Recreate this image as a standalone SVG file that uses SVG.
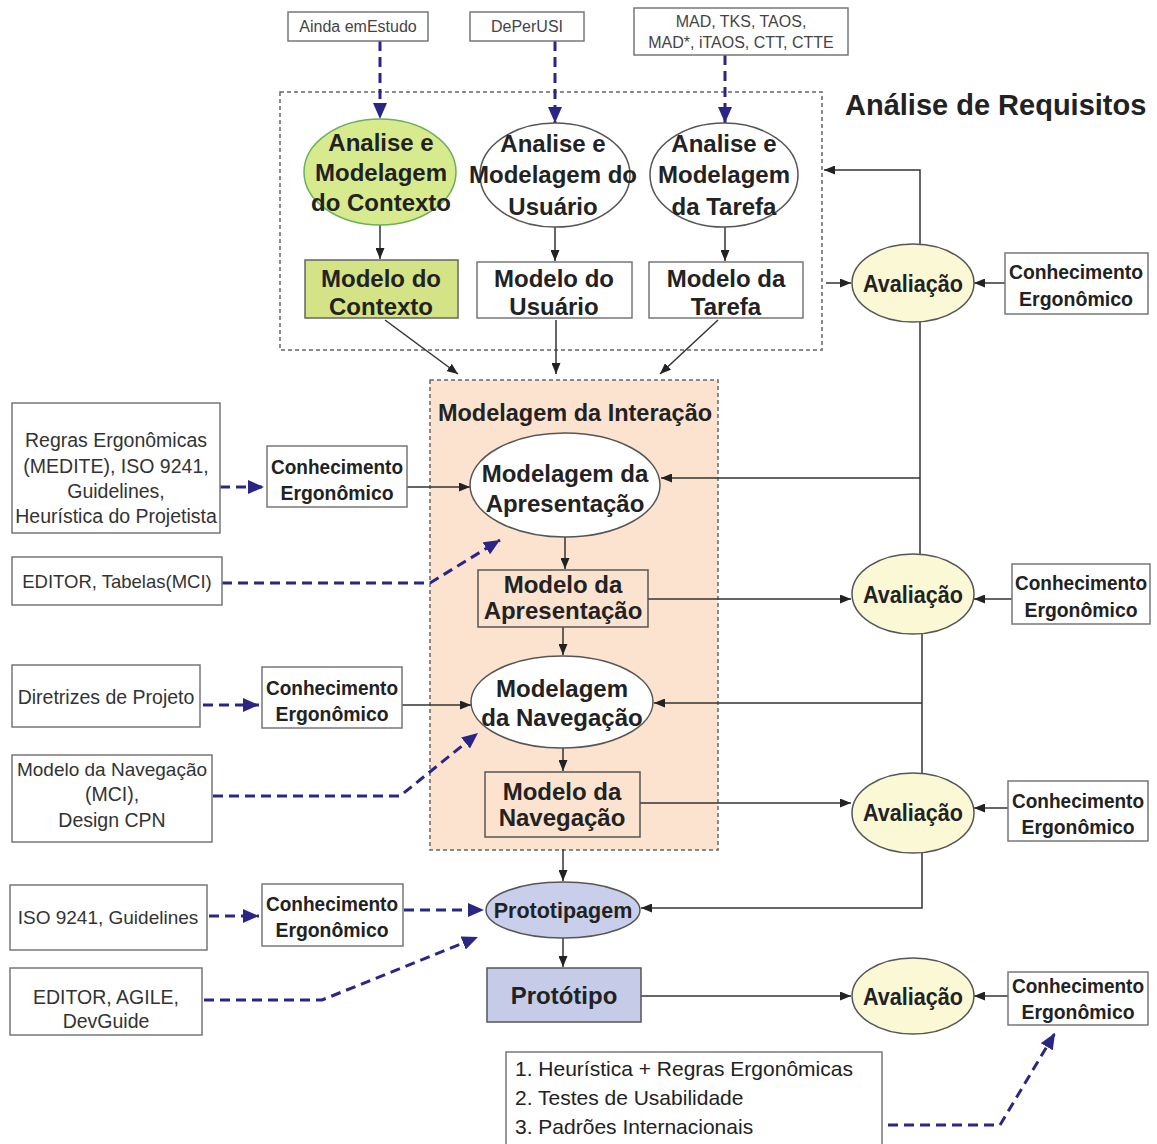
<svg xmlns="http://www.w3.org/2000/svg" width="1157" height="1144" viewBox="0 0 1157 1144">
<style>
text { font-family: "Liberation Sans", Arial, sans-serif; fill: #222; }
.b { font-weight: bold; font-size: 24px; text-anchor: middle; }
.k { font-weight: bold; font-size: 19.3px; text-anchor: middle; }
.av { font-weight: bold; font-size: 24px; text-anchor: middle; }
.r { font-size: 19.5px; text-anchor: middle; fill: #333; }
.s { font-size: 16px; text-anchor: middle; fill: #444; }
.box { fill: #fff; stroke: #777; stroke-width: 1.5; }
.ell { fill: #fff; stroke: #555; stroke-width: 1.5; }
.aval { fill: #fbf8d6; stroke: #555; stroke-width: 1.5; }
.ln { stroke: #333; stroke-width: 1.5; fill: none; }
.dl { stroke: #2b2685; stroke-width: 3; fill: none; stroke-dasharray: 10 6; }
.region { stroke: #666; stroke-width: 1.5; stroke-dasharray: 4 3; }
</style>
<defs>
<marker id="ah" markerWidth="11" markerHeight="9" refX="11" refY="4.5" orient="auto" markerUnits="userSpaceOnUse"><path d="M0,0 L11,4.5 L0,9 z" fill="#222"/></marker>
<marker id="bh" markerWidth="16" markerHeight="14" refX="16" refY="7" orient="auto" markerUnits="userSpaceOnUse"><path d="M0,0 L16,7 L0,14 z" fill="#2b2685"/></marker>
</defs>
<rect width="1157" height="1144" fill="#fff"/>

<g id="region-analise">
<rect class="region" x="280" y="92" width="542" height="258" fill="none"/>
<text x="845" y="115" font-size="29" font-weight="bold">Análise de Requisitos</text>
</g>
<g id="region-interacao">
<rect class="region" x="430" y="380" width="288" height="470" fill="#fce3cf"/>
<text x="575" y="421" font-size="23.5" font-weight="bold" text-anchor="middle">Modelagem da Interação</text>
</g>

<g id="connectors">
<path class="dl" d="M380,41 V119" marker-end="url(#bh)"/>
<path class="dl" d="M555,41 V123" marker-end="url(#bh)"/>
<path class="dl" d="M725,55 V123" marker-end="url(#bh)"/>
<path class="ln" d="M380,225 V259" marker-end="url(#ah)"/>
<path class="ln" d="M555,227 V261" marker-end="url(#ah)"/>
<path class="ln" d="M725,227 V261" marker-end="url(#ah)"/>
<path class="ln" d="M385,320 L458,374" marker-end="url(#ah)"/>
<path class="ln" d="M556,320 V374" marker-end="url(#ah)"/>
<path class="ln" d="M718,320 L660,374" marker-end="url(#ah)"/>
<path class="ln" d="M826,283 H851" marker-end="url(#ah)"/>
<path class="ln" d="M1005,283 H974" marker-end="url(#ah)"/>
<path class="ln" d="M920,245 V170 H824" marker-end="url(#ah)"/>
<path class="ln" d="M920,322 V554"/>
<path class="ln" d="M920,478 H661" marker-end="url(#ah)"/>
<path class="ln" d="M407,487 H470" marker-end="url(#ah)"/>
<path class="ln" d="M565,537 V569" marker-end="url(#ah)"/>
<path class="ln" d="M648,599 H851" marker-end="url(#ah)"/>
<path class="ln" d="M1012,599 H974" marker-end="url(#ah)"/>
<path class="ln" d="M563,627 V655" marker-end="url(#ah)"/>
<path class="ln" d="M922,634 V773"/>
<path class="ln" d="M922,703 H654" marker-end="url(#ah)"/>
<path class="ln" d="M402,705 H471" marker-end="url(#ah)"/>
<path class="ln" d="M563,748 V771" marker-end="url(#ah)"/>
<path class="ln" d="M640,803 H851" marker-end="url(#ah)"/>
<path class="ln" d="M1008,808 H974" marker-end="url(#ah)"/>
<path class="ln" d="M922,853 V908 H641" marker-end="url(#ah)"/>
<path class="ln" d="M563,849 V881" marker-end="url(#ah)"/>
<path class="ln" d="M563,938 V967" marker-end="url(#ah)"/>
<path class="ln" d="M641,996 H851" marker-end="url(#ah)"/>
<path class="ln" d="M1008,996 H974" marker-end="url(#ah)"/>
<path class="dl" d="M220,487 H264" marker-end="url(#bh)"/>
<path class="dl" d="M222,583 H430 L500,540" marker-end="url(#bh)"/>
<path class="dl" d="M203,705 H259" marker-end="url(#bh)"/>
<path class="dl" d="M213,796 H400 L478,733" marker-end="url(#bh)"/>
<path class="dl" d="M209,916 H259" marker-end="url(#bh)"/>
<path class="dl" d="M404,910 H484" marker-end="url(#bh)"/>
<path class="dl" d="M204,1000 H322 L478,937" marker-end="url(#bh)"/>
<path class="dl" d="M888,1125 H1000 L1055,1033" marker-end="url(#bh)"/>
</g>

<g id="src-ainda"><rect class="box" x="288" y="12" width="140" height="29"/><text class="s" x="358" y="32">Ainda emEstudo</text></g>
<g id="src-deperusi"><rect class="box" x="470" y="12" width="114" height="29"/><text class="s" x="527" y="32">DePerUSI</text></g>
<g id="src-mad"><rect class="box" x="634" y="8" width="214" height="47"/><text class="s" x="741" y="27">MAD, TKS, TAOS,</text><text class="s" x="741" y="48">MAD*, iTAOS, CTT, CTTE</text></g>

<g id="am-contexto"><ellipse cx="380" cy="172" rx="76" ry="53" fill="#d8ea8e" stroke="#6aaf5a" stroke-width="1.5"/>
<text class="b" x="381" y="151">Analise e</text><text class="b" x="381" y="181">Modelagem</text><text class="b" x="381" y="211">do Contexto</text></g>
<g id="am-usuario"><ellipse class="ell" cx="555" cy="175" rx="75" ry="52"/>
<text class="b" x="553" y="152">Analise e</text><text class="b" x="553" y="183">Modelagem do</text><text class="b" x="553" y="215">Usuário</text></g>
<g id="am-tarefa"><ellipse class="ell" cx="724" cy="175" rx="74" ry="52"/>
<text class="b" x="724" y="152">Analise e</text><text class="b" x="724" y="183">Modelagem</text><text class="b" x="724" y="215">da Tarefa</text></g>

<g id="modelo-contexto"><rect x="305" y="260" width="153" height="58" fill="#d4e386" stroke="#666" stroke-width="1.5"/>
<text class="b" x="381" y="287">Modelo do</text><text class="b" x="381" y="315">Contexto</text></g>
<g id="modelo-usuario"><rect class="box" x="477" y="262" width="155" height="56"/>
<text class="b" x="554" y="287">Modelo do</text><text class="b" x="554" y="315">Usuário</text></g>
<g id="modelo-tarefa"><rect class="box" x="649" y="262" width="154" height="56"/>
<text class="b" x="726" y="287">Modelo da</text><text class="b" x="726" y="315">Tarefa</text></g>

<g id="aval-1"><ellipse class="aval" cx="913" cy="283" rx="61" ry="39"/><text class="av" x="913" y="292" textLength="100" lengthAdjust="spacingAndGlyphs">Avaliação</text></g>
<g id="conh-r1"><rect class="box" x="1005" y="253" width="143" height="61"/><text class="k" x="1076" y="279" textLength="134" lengthAdjust="spacingAndGlyphs">Conhecimento</text><text class="k" x="1076" y="306" textLength="114" lengthAdjust="spacingAndGlyphs">Ergonômico</text></g>

<g id="src-regras"><rect class="box" x="12" y="403" width="208" height="130"/>
<text class="r" x="116" y="447">Regras Ergonômicas</text><text class="r" x="116" y="473">(MEDITE), ISO 9241,</text><text class="r" x="116" y="498">Guidelines,</text><text class="r" x="116" y="523">Heurística do Projetista</text></g>
<g id="conh-l1"><rect class="box" x="267" y="446" width="140" height="61"/><text class="k" x="337" y="474" textLength="132" lengthAdjust="spacingAndGlyphs">Conhecimento</text><text class="k" x="337" y="500" textLength="113" lengthAdjust="spacingAndGlyphs">Ergonômico</text></g>
<g id="mod-apresentacao"><ellipse class="ell" cx="565" cy="485" rx="95" ry="52" fill="none"/>
<text class="b" x="565" y="482">Modelagem da</text><text class="b" x="565" y="512">Apresentação</text></g>
<g id="src-editor1"><rect class="box" x="12" y="557" width="210" height="48"/><text class="r" x="117" y="588" style="font-size:18.5px">EDITOR, Tabelas(MCI)</text></g>
<g id="modelo-apresentacao"><rect x="478" y="570" width="170" height="57" fill="none" stroke="#555" stroke-width="1.5"/>
<text class="b" x="563" y="593">Modelo da</text><text class="b" x="563" y="619">Apresentação</text></g>
<g id="aval-2"><ellipse class="aval" cx="913" cy="594" rx="61" ry="40"/><text class="av" x="913" y="603" textLength="100" lengthAdjust="spacingAndGlyphs">Avaliação</text></g>
<g id="conh-r2"><rect class="box" x="1012" y="564" width="138" height="60"/><text class="k" x="1081" y="590" textLength="132" lengthAdjust="spacingAndGlyphs">Conhecimento</text><text class="k" x="1081" y="617" textLength="113" lengthAdjust="spacingAndGlyphs">Ergonômico</text></g>

<g id="src-diretrizes"><rect class="box" x="12" y="665" width="188" height="62"/><text class="r" x="106" y="704">Diretrizes de Projeto</text></g>
<g id="conh-l2"><rect class="box" x="262" y="667" width="140" height="61"/><text class="k" x="332" y="695" textLength="132" lengthAdjust="spacingAndGlyphs">Conhecimento</text><text class="k" x="332" y="721" textLength="113" lengthAdjust="spacingAndGlyphs">Ergonômico</text></g>
<g id="mod-navegacao"><ellipse class="ell" cx="562" cy="702" rx="91" ry="46" fill="none"/>
<text class="b" x="562" y="697">Modelagem</text><text class="b" x="562" y="726">da Navegação</text></g>
<g id="src-modnav"><rect class="box" x="12" y="755" width="200" height="87"/>
<text class="r" x="112" y="776" style="font-size:19px">Modelo da Navegação</text><text class="r" x="112" y="801">(MCI),</text><text class="r" x="112" y="827">Design CPN</text></g>
<g id="modelo-navegacao"><rect x="485" y="772" width="155" height="65" fill="none" stroke="#555" stroke-width="1.5"/>
<text class="b" x="562" y="800">Modelo da</text><text class="b" x="562" y="826">Navegação</text></g>
<g id="aval-3"><ellipse class="aval" cx="913" cy="813" rx="61" ry="40"/><text class="av" x="913" y="821" textLength="100" lengthAdjust="spacingAndGlyphs">Avaliação</text></g>
<g id="conh-r3"><rect class="box" x="1008" y="781" width="140" height="60"/><text class="k" x="1078" y="808" textLength="132" lengthAdjust="spacingAndGlyphs">Conhecimento</text><text class="k" x="1078" y="834" textLength="113" lengthAdjust="spacingAndGlyphs">Ergonômico</text></g>

<g id="src-iso"><rect class="box" x="10" y="885" width="197" height="65"/><text class="r" x="108" y="924" style="font-size:19px">ISO 9241, Guidelines</text></g>
<g id="conh-l3"><rect class="box" x="262" y="884" width="141" height="62"/><text class="k" x="332" y="911" textLength="132" lengthAdjust="spacingAndGlyphs">Conhecimento</text><text class="k" x="332" y="937" textLength="113" lengthAdjust="spacingAndGlyphs">Ergonômico</text></g>
<g id="prototipagem"><ellipse cx="563" cy="910" rx="77" ry="28" fill="#c9cfea" stroke="#555" stroke-width="1.5"/><text class="b" x="563" y="918" style="font-size:21.5px">Prototipagem</text></g>
<g id="src-editor2"><rect class="box" x="10" y="968" width="192" height="67"/><text class="r" x="106" y="1004">EDITOR, AGILE,</text><text class="r" x="106" y="1028">DevGuide</text></g>
<g id="prototipo"><rect x="487" y="968" width="154" height="54" fill="#c6cce8" stroke="#555" stroke-width="1.5"/><text class="b" x="564" y="1004">Protótipo</text></g>
<g id="aval-4"><ellipse class="aval" cx="913" cy="996" rx="61" ry="38"/><text class="av" x="913" y="1005" textLength="100" lengthAdjust="spacingAndGlyphs">Avaliação</text></g>
<g id="conh-r4"><rect class="box" x="1008" y="972" width="140" height="53"/><text class="k" x="1078" y="993" textLength="132" lengthAdjust="spacingAndGlyphs">Conhecimento</text><text class="k" x="1078" y="1019" textLength="113" lengthAdjust="spacingAndGlyphs">Ergonômico</text></g>

<g id="metodos"><rect class="box" x="506" y="1052" width="376" height="95"/>
<text x="515" y="1076" font-size="21" fill="#333">1. Heurística + Regras Ergonômicas</text>
<text x="515" y="1105" font-size="21" fill="#333">2. Testes de Usabilidade</text>
<text x="515" y="1134" font-size="21" fill="#333">3. Padrões Internacionais</text></g>
</svg>
